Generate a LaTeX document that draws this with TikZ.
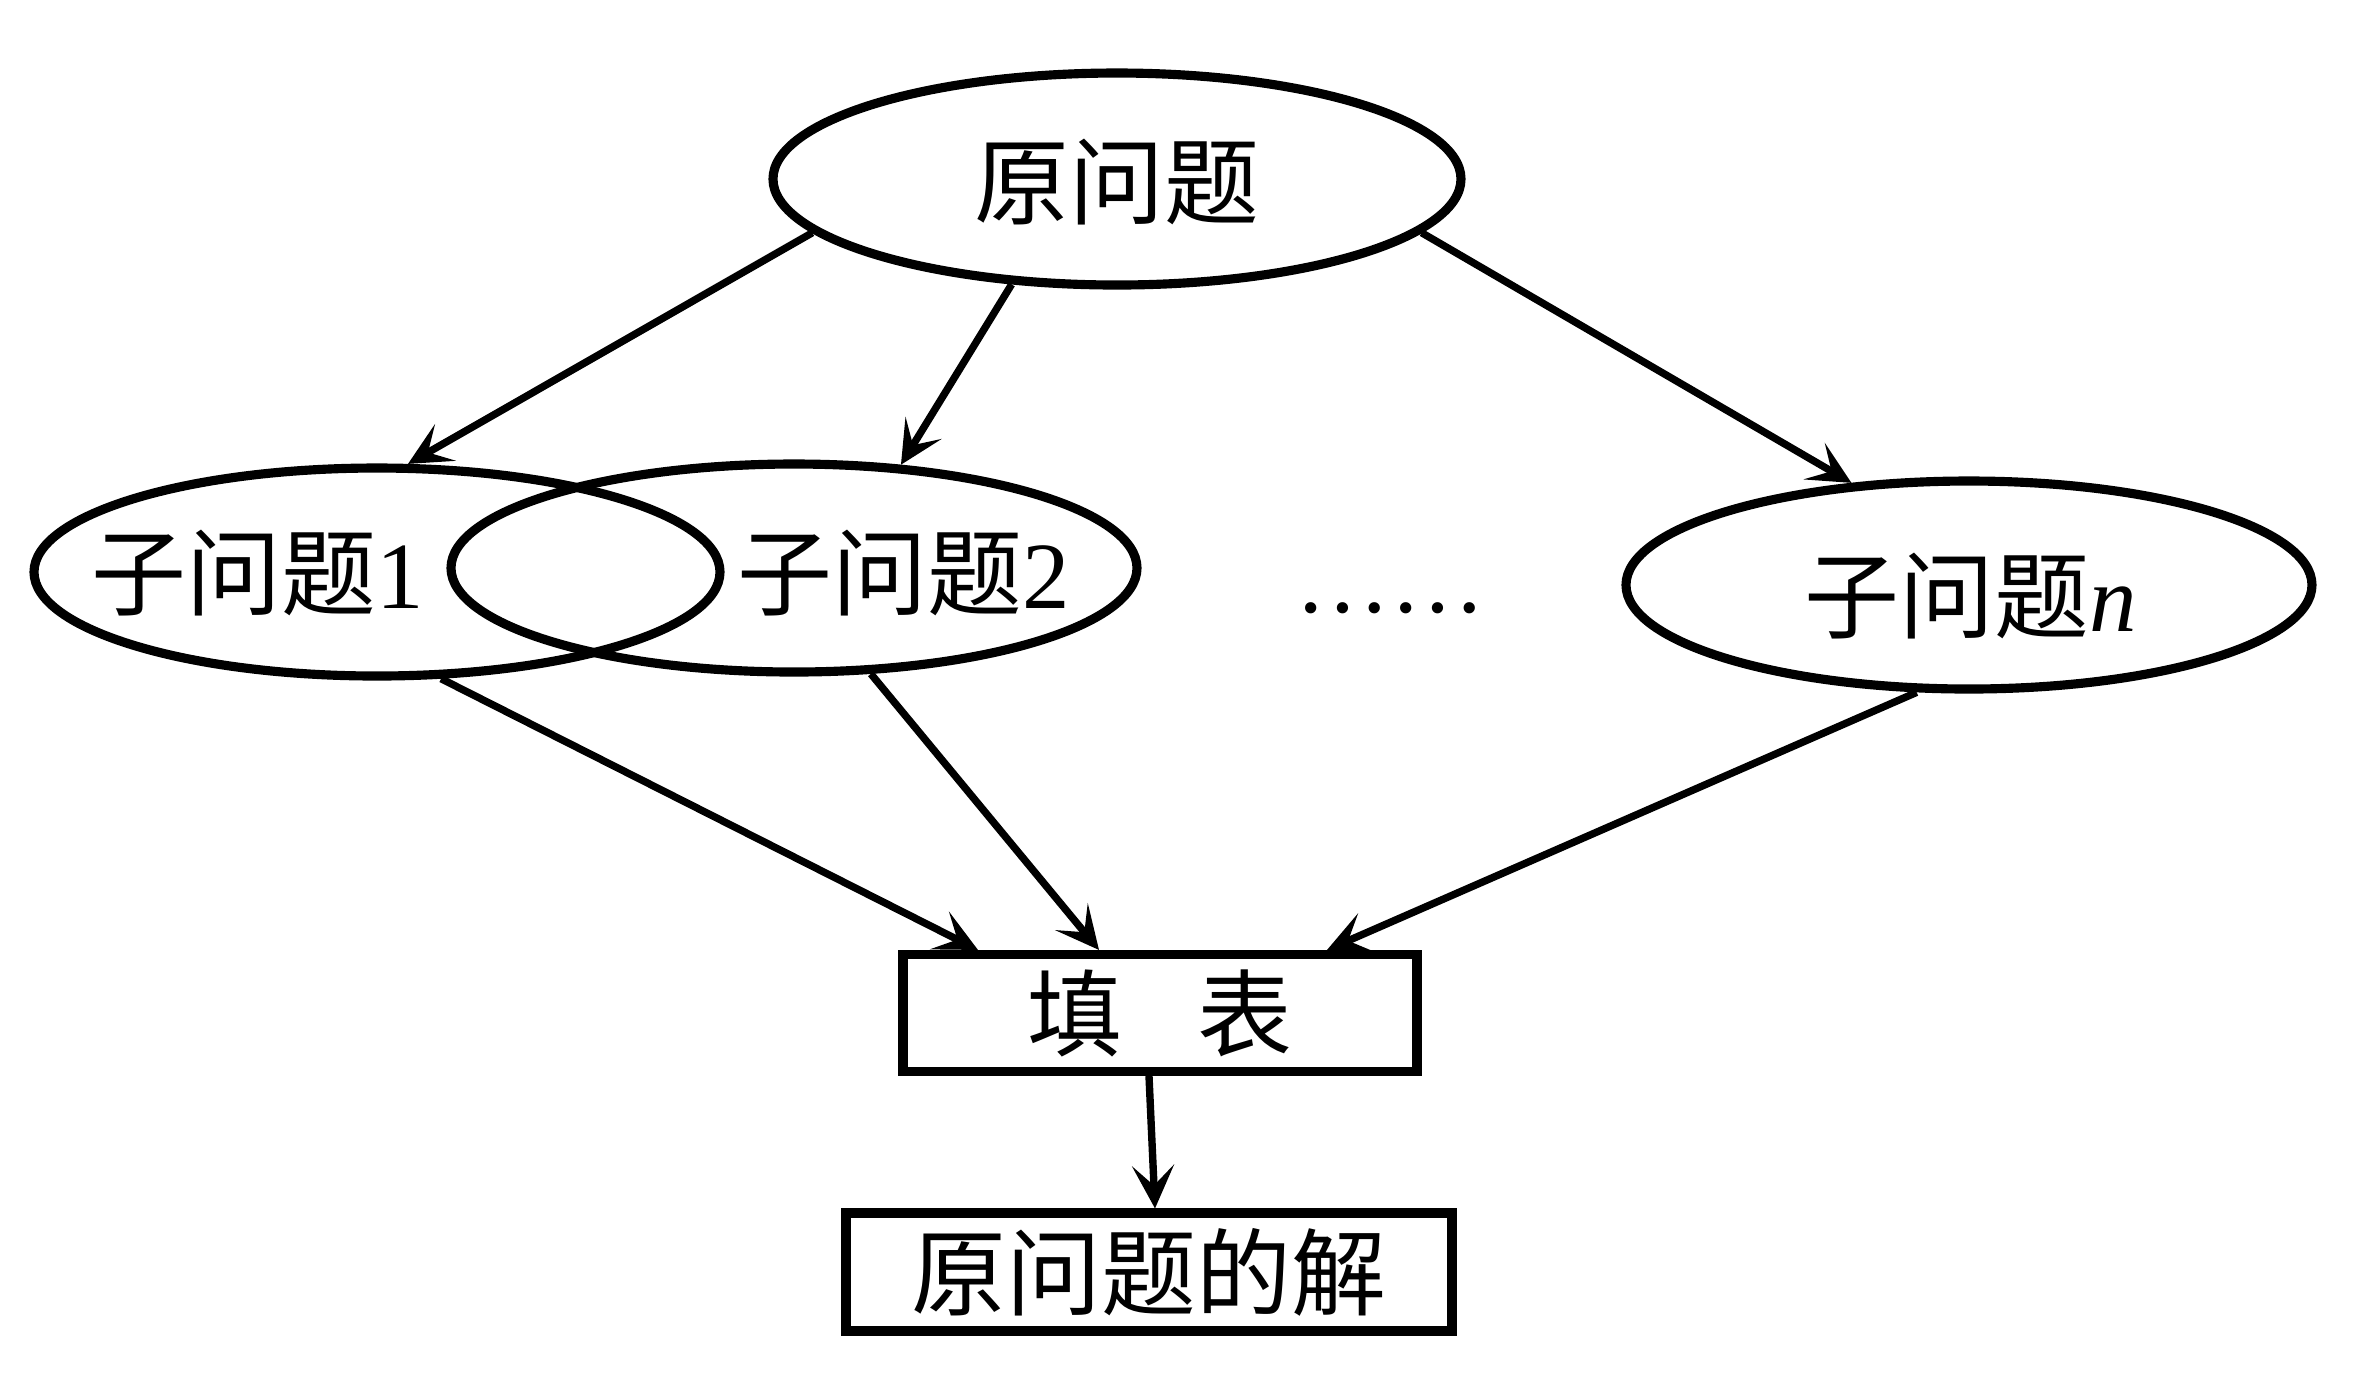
\documentclass[tikz,border=0pt]{standalone}
\usepackage{fontspec}
\setmainfont{Liberation Serif}
\newfontfamily\cjk{Noto Sans CJK SC}
\usetikzlibrary{arrows.meta,shapes.geometric}

\begin{document}
\begin{tikzpicture}[>={Stealth[length=0.43cm,width=0.42cm,inset=0.2cm]},
  prob/.style={draw,ellipse,line width=2.6pt,inner sep=0pt,minimum width=6.86cm,minimum height=2.08cm},
  tbox/.style={draw,rectangle,line width=2.6pt,inner sep=0pt},
  txt/.style={inner sep=0pt,font=\fontsize{27}{32}\selectfont},
  arr/.style={->,line width=2.1pt}]
\useasboundingbox (0,0) rectangle (23.77,-13.87);
% original problem
\node[prob,minimum width=6.88cm,minimum height=2.12cm] (orig) at (11.17,-1.79) {};
\node[txt] (origt) at (11.17,-1.82) {\cjk 原问题};
% sub problems
\node[prob] (sub1) at (3.77,-5.72) {};
\node[txt] (sub1t) at (2.58,-5.73) {{\cjk 子问题}1};
\node[prob] (sub2) at (7.94,-5.68) {};
\node[txt] (sub2t) at (9.04,-5.73) {{\cjk 子问题}2};
\node[prob] (subn) at (19.69,-5.85) {};
\node[txt] (subnt) at (19.71,-5.96) {{\cjk 子问题}\textit{n}};
\node[txt,anchor=base] (dots) at (13.90,-6.12) {\ldots\ldots};
% table and answer
\node[tbox,minimum width=5.14cm,minimum height=1.17cm,font=\fontsize{27}{32}\selectfont] (fill) at (11.60,-10.13) {\cjk 填\hspace{0.8em}表};
\node[tbox,minimum width=6.06cm,minimum height=1.18cm,font=\fontsize{27}{32}\selectfont] (ans) at (11.49,-12.72) {\cjk 原问题的解};
% split
\draw[arr] (orig.190) -- (sub1.74);
\draw[arr] (orig.225) -- (sub2.44);
\draw[arr] (orig.-10) -- (subn.139);
% merge
\draw[arr] (sub1.-59) -- ([xshift=-1.82cm]fill.north);
\draw[arr] (sub2.-54) -- ([xshift=-0.61cm]fill.north);
\draw[arr] (subn.-116) -- ([xshift=1.67cm]fill.north);
\draw[arr] ([xshift=-0.11cm]fill.south) -- ([xshift=0.06cm]ans.north);
\end{tikzpicture}
\end{document}
